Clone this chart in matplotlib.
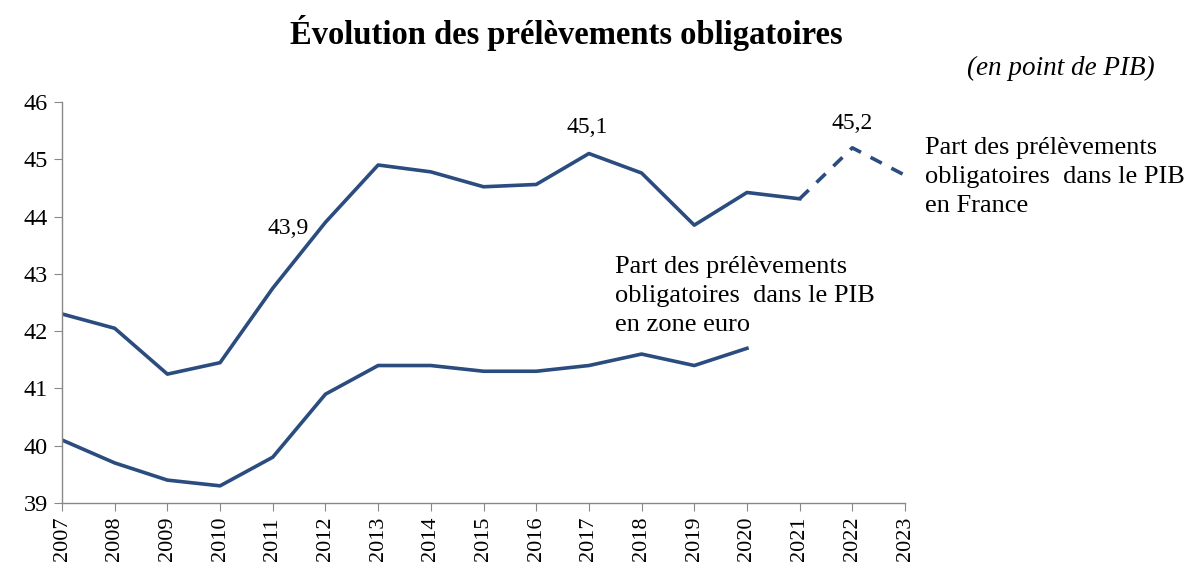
import matplotlib
matplotlib.use("Agg")
import matplotlib.pyplot as plt

years = list(range(2007, 2024))
france = [42.3, 42.05, 41.25, 41.45, 42.75, 43.9, 44.9, 44.78, 44.52, 44.56, 45.1,
          44.76, 43.85, 44.42, 44.31, 45.2, 44.72]
euro_years = list(range(2007, 2021))
euro = [40.1, 39.7, 39.4, 39.3, 39.8, 40.9, 41.4, 41.4, 41.3, 41.3, 41.4, 41.6, 41.4, 41.7]
y_ticks = [39, 40, 41, 42, 43, 44, 45, 46]
title = "Évolution des prélèvements obligatoires"
unit = "(en point de PIB)"
label_fr = "Part des prélèvements\nobligatoires  dans le PIB\nen France"
label_ez = "Part des prélèvements\nobligatoires  dans le PIB\nen zone euro"

plt.rcParams['font.family'] = ['Liberation Serif', 'DejaVu Serif']
color = "#2b4c7e"

fig = plt.figure(figsize=(11.88, 5.70), dpi=100)
ax = fig.add_axes([0.0522, 0.1175, 0.7096, 0.7036])

n_hist = years.index(2021) + 1
ax.plot(years[:n_hist], france[:n_hist], color=color, lw=2.6)
ax.plot(years[n_hist - 1:], france[n_hist - 1:], color=color, lw=2.6, ls=(0, (3.5, 3)))
ax.plot(euro_years, euro, color=color, lw=2.6)

ax.set_xlim(2007, 2023)
ax.set_ylim(39, 46)
ax.set_yticks(y_ticks)
ax.set_xticks(years)
ax.set_xticklabels([str(y) for y in years], rotation=90, fontsize=16)
ax.tick_params(axis='y', labelsize=17.5, length=6, color='#888888', pad=4)
ax.tick_params(axis='x', length=6, color='#888888', pad=4)
for s in ['top', 'right']:
    ax.spines[s].set_visible(False)
for s in ['left', 'bottom']:
    ax.spines[s].set_color('#888888')
    ax.spines[s].set_linewidth(1.0)

ax.text(2011.68, 43.8, "43,9", ha='right', va='center', fontsize=17)
ax.text(2016.97, 45.55, "45,1", ha='center', va='center', fontsize=17)
ax.text(2022.0, 45.63, "45,2", ha='center', va='center', fontsize=17)

ax.text(2023.38, 45.39, label_fr, ha='left', va='top', fontsize=19,
        linespacing=1.4, clip_on=False)
ax.text(2017.49, 43.31, label_ez, ha='left', va='top', fontsize=19,
        linespacing=1.4, clip_on=False)

fig.text(0.477, 0.942, title, ha='center', va='center', fontsize=23.5, fontweight='bold')
fig.text(0.972, 0.88, unit, ha='right', va='center', fontsize=19.5, style='italic')

fig.savefig("out.png", dpi=100)
